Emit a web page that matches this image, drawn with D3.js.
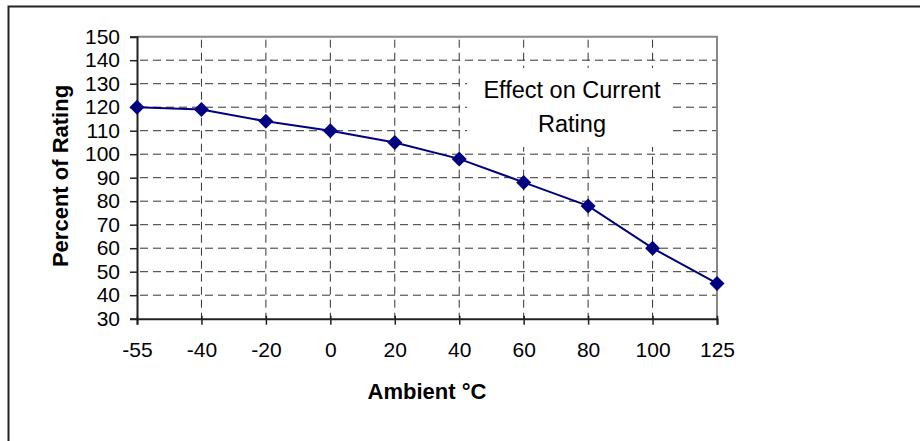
<!doctype html>
<html lang="en">

<head>
    <meta charset="utf-8">
    <script src="https://d3js.org/d3.v7.min.js"></script>
    <style>
        body { margin: 0; background: #fff; }
        text { font-family: "Liberation Sans", Arial, sans-serif; }
    </style>
</head>

<body>
    <div id="chart"></div>
    <script>
        // data
        var ambient = ["-55", "-40", "-20", "0", "20", "40", "60", "80", "100", "125"];
        var percentRating = [120, 119, 114, 110, 105, 98, 88, 78, 60, 45];
        var yTicks = [30, 40, 50, 60, 70, 80, 90, 100, 110, 120, 130, 140, 150];

        var W = 920, H = 441;
        var margin = { top: 36.7, right: 203, bottom: 122.3, left: 137 },
            width = W - margin.left - margin.right,
            height = H - margin.top - margin.bottom;

        var svg = d3.select("#chart")
            .append("svg")
            .attr("width", W)
            .attr("height", H);

        // outer chart border (only left and top visible)
        svg.append("rect")
            .attr("x", 8.5).attr("y", 6.5)
            .attr("width", W).attr("height", H)
            .attr("fill", "none")
            .attr("stroke", "#222")
            .attr("stroke-width", 2);

        var g = svg.append("g")
            .attr("transform", "translate(" + margin.left + "," + margin.top + ")");

        var x = d3.scalePoint()
            .domain(ambient)
            .range([0, width]);

        var y = d3.scaleLinear()
            .domain([30, 150])
            .range([height, 0]);

        // dashed grid
        g.append("g")
            .selectAll("line")
            .data(yTicks.slice(1, -1))
            .join("line")
            .attr("x1", 0).attr("x2", width)
            .attr("y1", d => y(d)).attr("y2", d => y(d))
            .attr("stroke", "#333")
            .attr("stroke-dasharray", "8,5")
            .attr("stroke-dashoffset", -3);

        g.append("g")
            .selectAll("line")
            .data(ambient.slice(1, -1))
            .join("line")
            .attr("x1", d => x(d)).attr("x2", d => x(d))
            .attr("y1", 0).attr("y2", height)
            .attr("stroke", "#333")
            .attr("stroke-dasharray", "8,5")
            .attr("stroke-dashoffset", -3);

        // plot area border top/right (gray)
        g.append("path")
            .attr("d", "M0,0H" + width + "V" + height)
            .attr("fill", "none")
            .attr("stroke", "#888")
            .attr("stroke-width", 2);

        // white box behind the title
        g.append("rect")
            .attr("x", 467 - margin.left).attr("y", 68 - margin.top)
            .attr("width", 206).attr("height", 79)
            .attr("fill", "#fff");

        // axes
        var yAxis = g.append("g")
            .call(d3.axisLeft(y).tickValues(yTicks).tickSize(7).tickPadding(10));
        var xAxis = g.append("g")
            .attr("transform", "translate(0," + height + ")")
            .call(d3.axisBottom(x).tickSize(6).tickPadding(17));

        [yAxis, xAxis].forEach(function (a) {
            a.select(".domain").attr("stroke", "#222").attr("stroke-width", 2);
            a.selectAll(".tick line").attr("stroke", "#222").attr("stroke-width", 1.5);
            a.selectAll(".tick text")
                .attr("fill", "#000")
                .style("font-size", "21px")
                .style("font-family", "'Liberation Sans', Arial, sans-serif");
        });
        xAxis.selectAll(".tick line").attr("y1", -3);

        // line + diamond markers
        var pts = ambient.map(function (a, i) { return { a: a, v: percentRating[i] }; });

        g.append("path")
            .datum(pts)
            .attr("fill", "none")
            .attr("stroke", "#000080")
            .attr("stroke-width", 2)
            .attr("d", d3.line()
                .x(d => x(d.a))
                .y(d => y(d.v)));

        g.selectAll(".mark")
            .data(pts)
            .join("path")
            .attr("class", "mark")
            .attr("transform", d => "translate(" + x(d.a) + "," + y(d.v) + ")")
            .attr("d", "M0,-7.5L7.5,0L0,7.5L-7.5,0Z")
            .attr("fill", "#000080");

        // title inside plot
        var title = svg.append("text")
            .attr("x", 572)
            .attr("y", 98)
            .attr("text-anchor", "middle")
            .style("font-size", "23.5px")
            .attr("fill", "#000");
        title.append("tspan").attr("x", 572).text("Effect on Current");
        title.append("tspan").attr("x", 572).attr("dy", 33.5).text("Rating");

        // axis titles
        svg.append("text")
            .attr("x", margin.left + width / 2)
            .attr("y", 399)
            .attr("text-anchor", "middle")
            .style("font-size", "22px")
            .style("font-weight", "bold")
            .text("Ambient \u00B0C");

        svg.append("text")
            .attr("transform", "translate(68,176) rotate(-90)")
            .attr("text-anchor", "middle")
            .style("font-size", "22px")
            .style("font-weight", "bold")
            .text("Percent of Rating");
    </script>
</body>

</html>
